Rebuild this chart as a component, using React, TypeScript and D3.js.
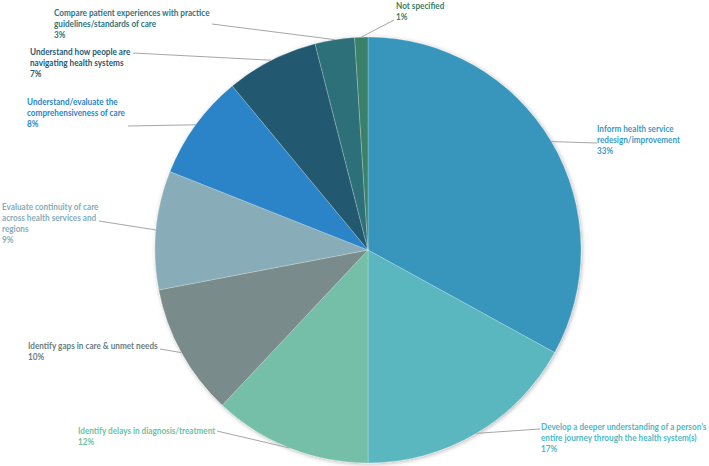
import React from 'react';
import * as d3 from 'd3';

const categories = [
  ['Inform health service', 'redesign/improvement'],
  ['Develop a deeper understanding of a person\u2019s', 'entire journey through the health system(s)'],
  ['Identify delays in diagnosis/treatment'],
  ['Identify gaps in care & unmet needs'],
  ['Evaluate continuity of care', 'across health services and', 'regions'],
  ['Understand/evaluate the', 'comprehensiveness of care'],
  ['Understand how people are', 'navigating health systems'],
  ['Compare patient experiences with practice', 'guidelines/standards of care'],
  ['Not specified'],
];
const values = [33, 17, 12, 10, 9, 8, 7, 3, 1];
const colors = ['#3795bc', '#5ab6bf', '#74bea8', '#7a8b8b', '#88adb8', '#2a84c7', '#20586f', '#2f6f79', '#3a8068'];
const textColors = ['#3a9bc6', '#4fb8c4', '#6cc3a0', '#6c7d7e', '#86adb9', '#2a86cc', '#1f5a73', '#2f7480', '#3a8068'];

// label layout: text x, first baseline y, leader end
const labelPos = [
  { x: 597, y: 132, lx: 597, ly: 143 },
  { x: 541, y: 430, lx: 540, ly: 429 },
  { x: 78, y: 434, lx: 217, ly: 431 },
  { x: 28, y: 349, lx: 160, ly: 349 },
  { x: 2, y: 210, lx: 99, ly: 221 },
  { x: 27, y: 105, lx: 128, ly: 126 },
  { x: 30, y: 55, lx: 133, ly: 53 },
  { x: 54, y: 16, lx: 212, ly: 24 },
  { x: 396, y: 9, lx: 394, ly: 20 },
];

export default function App() {
  const width = 709;
  const height = 466;
  const cx = 368;
  const cy = 250;
  const r = 213;
  const pie = d3.pie<number>().sort(null).value((d) => d);
  const arcs = pie(values);
  const arc = d3.arc<d3.PieArcDatum<number>>().innerRadius(0).outerRadius(r);
  const edge = d3.arc<d3.PieArcDatum<number>>().innerRadius(r).outerRadius(r);

  return (
    <svg width={width} height={height} style={{ position: 'absolute', left: 0, top: 0, background: '#fff' }}>
      <defs>
        <filter id="sh" x="-10%" y="-10%" width="120%" height="120%">
          <feDropShadow dx="1" dy="1" stdDeviation="2" floodColor="#000" floodOpacity="0.3" />
        </filter>
      </defs>
      <g transform={`translate(${cx},${cy})`}>
        <g filter="url(#sh)">
          {arcs.map((a, i) => (
            <path key={i} d={arc(a) || ''} fill={colors[i]} stroke="#fff" strokeWidth={0.4} strokeOpacity={0.6} />
          ))}
        </g>
      </g>
      {arcs.map((a, i) => {
        const [ex, ey] = edge.centroid(a);
        const p = labelPos[i];
        return (
          <line key={i} x1={cx + ex} y1={cy + ey} x2={p.lx} y2={p.ly} stroke="#a6a6a6" strokeWidth={1} />
        );
      })}
      <g fontFamily="Lato, 'Open Sans', sans-serif" fontWeight="bold" fontSize={9.4}>
        {categories.map((lines, i) => {
          const p = labelPos[i];
          const all = [...lines, `${values[i]}%`];
          return (
            <text key={i} transform={`translate(${p.x},${p.y}) scale(0.87,1)`} fill={textColors[i]}>
              {all.map((t, j) => (
                <tspan key={j} x={0} dy={j === 0 ? 0 : 11}>
                  {t}
                </tspan>
              ))}
            </text>
          );
        })}
      </g>
    </svg>
  );
}
